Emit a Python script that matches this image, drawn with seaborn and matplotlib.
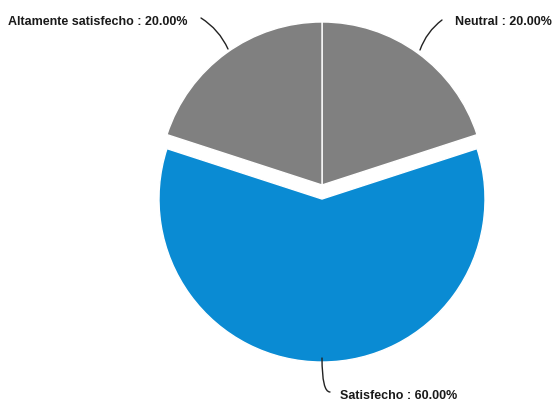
import matplotlib
matplotlib.use("Agg")
import matplotlib.pyplot as plt
import seaborn as sns

categories = ["Neutral", "Satisfecho", "Altamente satisfecho"]
values = [20.0, 60.0, 20.0]
colors = ["#808080", "#0a8bd3", "#808080"]

sns.set_style("white")
plt.rcParams['font.family'] = ['Liberation Sans', 'DejaVu Sans']

fig = plt.figure(figsize=(5.53, 4.01), dpi=100)
ax = fig.add_axes([0, 0, 1, 1])
R = 163.0
cx, cy = 322.0, 185.0
W, H = 553.0, 401.0

wedges, _ = ax.pie(values, colors=colors, startangle=90, counterclock=False,
                   explode=[0, 0.086, 0], radius=1.0,
                   wedgeprops=dict(edgecolor="white", linewidth=1.0))
ax.set_xlim(-cx / R, (W - cx) / R)
ax.set_ylim(-(H - cy) / R, cy / R)
ax.set_aspect("equal")
ax.axis("off")

def d(px, py):
    return ((px - cx) / R, (cy - py) / R)

labels = [f"{c} : {v:.2f}%" for c, v in zip(categories, values)]
fs = 9
tkw = dict(fontsize=fs, fontweight="bold", color="#1a1a1a", va="center")
lkw = dict(arrowstyle="-", color="#222222", lw=1, shrinkA=0, shrinkB=0)

# Neutral
ax.text(*d(455, 22), labels[0], ha="left", **tkw)
ax.annotate("", xy=d(420, 50), xytext=d(442, 20),
            arrowprops=dict(connectionstyle="arc3,rad=0.15", **lkw))
# Satisfecho
ax.text(*d(340, 396), labels[1], ha="left", **tkw)
ax.annotate("", xy=d(322, 358), xytext=d(330, 392),
            arrowprops=dict(connectionstyle="angle3,angleA=0,angleB=90", **lkw))
# Altamente satisfecho
ax.text(*d(188, 22), labels[2], ha="right", **tkw)
ax.annotate("", xy=d(228, 49), xytext=d(201, 18),
            arrowprops=dict(connectionstyle="arc3,rad=-0.15", **lkw))

fig.savefig("out.png", dpi=100, facecolor="white")
